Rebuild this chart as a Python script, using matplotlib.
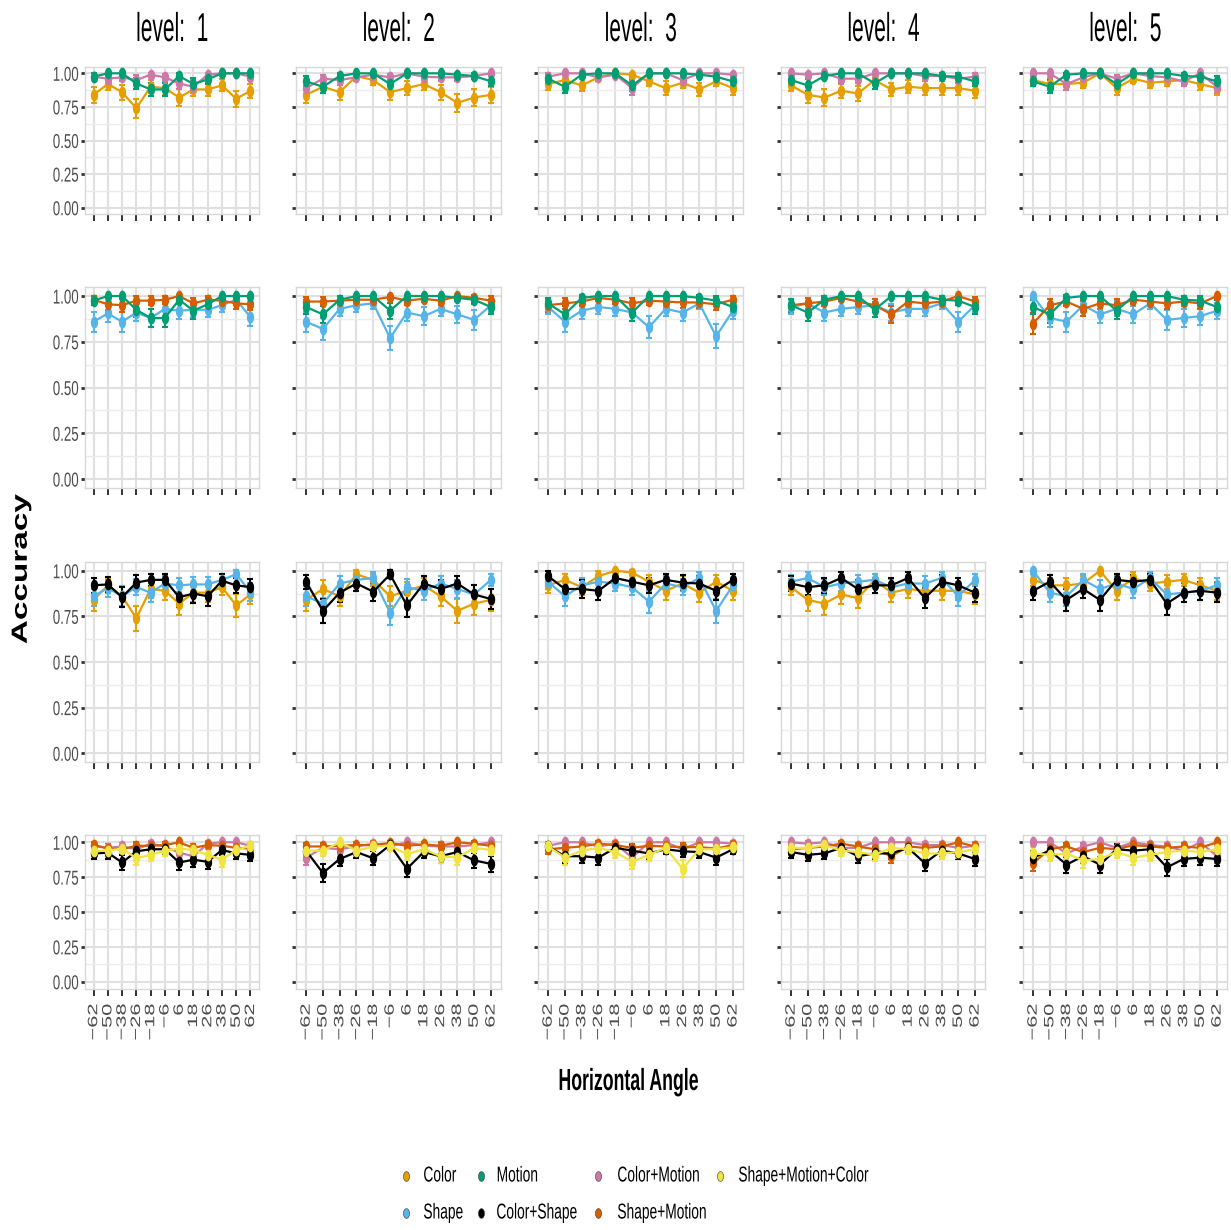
import numpy as np
import matplotlib
matplotlib.use("Agg")
import matplotlib.pyplot as plt
from matplotlib.path import Path
from matplotlib.patheffects import AbstractPathEffect
from matplotlib.transforms import Affine2D
from matplotlib.lines import Line2D

# ---------------------------------------------------------------- data
ANGLES = ["-62", "-50", "-38", "-26", "-18", "-6", "6", "18", "26", "38", "50", "62"]
LEVELS = [1, 2, 3, 4, 5]
N_TRIALS = 40  # trials per cell, used for the binomial standard error

# mean accuracy per level (rows) and horizontal angle (columns)
COLOR = [
    [0.84, 0.92, 0.86, 0.74, 0.90, 0.89, 0.82, 0.88, 0.88, 0.91, 0.81, 0.87],
    [0.84, 0.90, 0.86, 0.98, 0.95, 0.86, 0.89, 0.92, 0.86, 0.78, 0.82, 0.84],
    [0.92, 0.95, 0.91, 0.97, 1.00, 0.99, 0.94, 0.89, 0.93, 0.88, 0.94, 0.89],
    [0.91, 0.84, 0.82, 0.87, 0.85, 0.95, 0.88, 0.90, 0.89, 0.89, 0.89, 0.87],
    [0.95, 0.92, 0.92, 0.93, 1.00, 0.89, 0.96, 0.93, 0.94, 0.95, 0.92, 0.89],
]
MOTION = [
    [0.975, 1.00, 1.00, 0.925, 0.88, 0.88, 0.98, 0.92, 0.955, 1.00, 1.00, 1.00],
    [0.94, 0.90, 0.98, 1.00, 1.00, 0.92, 1.00, 1.00, 1.00, 0.99, 0.98, 0.94],
    [0.96, 0.90, 0.99, 1.00, 1.00, 0.91, 1.00, 1.00, 1.00, 0.99, 0.975, 0.94],
    [0.95, 0.91, 0.98, 1.00, 1.00, 0.925, 1.00, 1.00, 1.00, 0.98, 0.975, 0.94],
    [0.94, 0.90, 0.99, 1.00, 1.00, 0.92, 1.00, 1.00, 1.00, 0.98, 0.975, 0.94],
]
COLOR_MOTION = [
    [0.975, 0.96, 0.97, 0.95, 0.99, 0.97, 0.925, 0.90, 0.99, 1.00, 1.00, 0.975],
    [0.89, 0.96, 0.95, 0.97, 0.99, 0.97, 1.00, 0.975, 0.97, 0.97, 0.98, 1.00],
    [0.975, 1.00, 1.00, 0.97, 0.99, 0.89, 1.00, 1.00, 0.95, 1.00, 1.00, 0.99],
    [1.00, 0.99, 1.00, 0.96, 0.96, 1.00, 1.00, 1.00, 0.98, 0.98, 0.96, 0.975],
    [1.00, 1.00, 0.92, 0.97, 1.00, 0.96, 1.00, 0.98, 0.97, 0.94, 1.00, 0.90],
]
SHAPE = [
    [0.86, 0.905, 0.86, 0.91, 0.88, 0.93, 0.92, 0.925, 0.925, 0.95, 0.98, 0.885],
    [0.86, 0.82, 0.93, 0.95, 0.96, 0.77, 0.91, 0.89, 0.93, 0.90, 0.87, 0.95],
    [0.94, 0.86, 0.92, 0.94, 0.93, 0.91, 0.83, 0.93, 0.91, 0.96, 0.78, 0.92],
    [0.94, 0.96, 0.91, 0.93, 0.94, 0.95, 0.91, 0.93, 0.93, 0.96, 0.86, 0.95],
    [1.00, 0.88, 0.86, 0.95, 0.90, 0.93, 0.90, 0.96, 0.87, 0.88, 0.89, 0.92],
]
SHAPE_MOTION = [
    [0.98, 0.955, 0.95, 0.975, 0.975, 0.98, 1.00, 0.96, 0.98, 0.975, 0.96, 0.955],
    [0.97, 0.97, 0.975, 0.98, 0.98, 0.995, 0.975, 0.985, 0.975, 1.00, 0.99, 0.975],
    [0.95, 0.96, 0.97, 0.99, 0.98, 0.96, 0.975, 0.97, 0.965, 0.965, 0.955, 0.98],
    [0.95, 0.96, 0.97, 0.99, 0.97, 0.95, 0.90, 0.97, 0.96, 0.97, 1.00, 0.97],
    [0.85, 0.95, 0.97, 0.93, 0.96, 0.95, 0.98, 0.97, 0.96, 0.97, 0.96, 1.00],
]
COLOR_SHAPE = [
    [0.92, 0.925, 0.855, 0.935, 0.95, 0.95, 0.855, 0.875, 0.86, 0.945, 0.92, 0.91],
    [0.94, 0.78, 0.88, 0.93, 0.885, 0.98, 0.81, 0.93, 0.90, 0.93, 0.87, 0.845],
    [0.97, 0.90, 0.90, 0.89, 0.96, 0.94, 0.92, 0.95, 0.935, 0.93, 0.89, 0.95],
    [0.93, 0.91, 0.92, 0.96, 0.90, 0.92, 0.92, 0.96, 0.85, 0.94, 0.92, 0.88],
    [0.89, 0.94, 0.84, 0.90, 0.84, 0.95, 0.94, 0.95, 0.82, 0.88, 0.89, 0.88],
]
SHAPE_MOTION_COLOR = [
    [0.935, 0.94, 0.955, 0.885, 0.91, 0.94, 0.955, 0.945, 0.91, 0.875, 0.945, 0.975],
    [0.94, 0.94, 1.00, 0.94, 0.97, 0.975, 0.915, 0.95, 0.90, 0.89, 0.96, 0.945],
    [0.97, 0.89, 0.94, 0.96, 0.93, 0.86, 0.91, 0.96, 0.81, 0.95, 0.95, 0.965],
    [0.96, 0.96, 0.98, 0.94, 0.93, 0.91, 0.96, 0.95, 0.92, 0.92, 0.93, 0.95],
    [0.92, 0.91, 0.92, 0.87, 0.88, 0.93, 0.89, 0.91, 0.93, 0.94, 0.93, 0.95],
]

SERIES = {
    "Color": COLOR,
    "Shape": SHAPE,
    "Motion": MOTION,
    "Color+Shape": COLOR_SHAPE,
    "Color+Motion": COLOR_MOTION,
    "Shape+Motion": SHAPE_MOTION,
    "Shape+Motion+Color": SHAPE_MOTION_COLOR,
}
LEGEND_ORDER = ["Color", "Shape", "Motion", "Color+Shape",
                "Color+Motion", "Shape+Motion", "Shape+Motion+Color"]

# which conditions appear in each row of panels (drawing order)
ROW_CONDITIONS = [
    ["Color", "Color+Motion", "Motion"],
    ["Shape", "Shape+Motion", "Motion"],
    ["Color", "Shape", "Color+Shape"],
    ["Color+Motion", "Shape+Motion", "Color+Shape", "Shape+Motion+Color"],
]

# ---------------------------------------------------------------- style
PALETTE = {
    "Color": "#E69F00",
    "Shape": "#56B4E9",
    "Motion": "#009E73",
    "Color+Shape": "#000000",
    "Color+Motion": "#CC79A7",
    "Shape+Motion": "#D55E00",
    "Shape+Motion+Color": "#F0E442",
}
FONT = ["Liberation Sans", "DejaVu Sans"]
TICK_GREY = "#4D4D4D"


class Stretch(AbstractPathEffect):
    """Draw text rescaled in x and y about an anchor of its ink box."""

    def __init__(self, sx=1.0, sy=1.0, ax_="center", ay_="center"):
        super().__init__()
        self.sx, self.sy = sx, sy
        self.ax_, self.ay_ = ax_, ay_

    def draw_path(self, renderer, gc, tpath, affine, rgbFace=None):
        ext = tpath.get_extents(affine)
        cx = {"left": ext.x0, "right": ext.x1}.get(self.ax_, 0.5 * (ext.x0 + ext.x1))
        cy = {"bottom": ext.y0, "top": ext.y1}.get(self.ay_, 0.5 * (ext.y0 + ext.y1))
        t = affine + (Affine2D().translate(-cx, -cy)
                      .scale(self.sx, self.sy).translate(cx, cy))
        renderer.draw_path(gc, tpath, t, rgbFace)


# tall elliptical point marker
_theta = np.linspace(0, 2 * np.pi, 48)
ELLIPSE = Path(np.column_stack([0.62 * np.cos(_theta), np.sin(_theta)]), closed=True)

W, H = 1231, 1230
COL_X = [(85, 259), (296, 501), (538, 743), (781, 985), (1023, 1227)]
ROW_Y = [(66.6, 214.4), (286.9, 488.2), (561.6, 762.4), (835.3, 988.7)]

fig = plt.figure(figsize=(W / 100, H / 100), dpi=100)
fig.patch.set_facecolor("white")

x = np.arange(len(ANGLES))
yt = [0.0, 0.25, 0.5, 0.75, 1.0]

for r, conds in enumerate(ROW_CONDITIONS):
    y0, y1 = ROW_Y[r]
    for c, lev in enumerate(LEVELS):
        x0, x1 = COL_X[c]
        ax = fig.add_axes([x0 / W, 1 - y1 / H, (x1 - x0) / W, (y1 - y0) / H])
        ax.set_xlim(-0.6, len(ANGLES) - 0.4)
        ax.set_ylim(-0.05, 1.05)
        ax.set_facecolor("white")
        for s in ax.spines.values():
            s.set_color("#D8D8D8")
            s.set_linewidth(1.0)
        ax.set_axisbelow(True)
        ax.set_yticks(yt)
        ax.set_yticks([0.125, 0.375, 0.625, 0.875], minor=True)
        ax.set_xticks(x)
        ax.grid(which="major", color="#E0E0E0", linewidth=1.5)
        ax.grid(which="minor", axis="y", color="#ECECEC", linewidth=1.0)
        ax.tick_params(axis="x", which="major", length=5, width=1.4,
                       color="#333333", pad=6)
        ax.tick_params(axis="y", which="major", length=3, width=2.0,
                       color="#333333", pad=1.5)
        ax.tick_params(which="minor", length=0)

        if c == 0:
            ax.set_yticklabels(["0.00", "0.25", "0.50", "0.75", "1.00"])
            for lbl in ax.get_yticklabels():
                lbl.set_fontfamily(FONT)
                lbl.set_fontsize(14.5)
                lbl.set_color(TICK_GREY)
                lbl.set_path_effects([Stretch(0.66, 1.0, "right", "center")])
        else:
            ax.set_yticklabels([])

        if r == len(ROW_CONDITIONS) - 1:
            ax.set_xticklabels([a.replace("-", "\u2212") for a in ANGLES],
                               rotation=90, va="top", ha="center")
            for lbl in ax.get_xticklabels():
                lbl.set_fontfamily(FONT)
                lbl.set_fontsize(8.5)
                lbl.set_color(TICK_GREY)
                lbl.set_path_effects([Stretch(1.15, 1.85, "center", "top")])
        else:
            ax.set_xticklabels([])

        for cond in conds:
            p = np.asarray(SERIES[cond][c], dtype=float)
            se = np.sqrt(p * (1 - p) / N_TRIALS)
            col = PALETTE[cond]
            ax.errorbar(x, p, yerr=se, fmt="none", ecolor=col, elinewidth=1.5,
                        capsize=2.0, capthick=1.5, zorder=2)
            ax.plot(x, p, color=col, linewidth=1.6, marker=ELLIPSE,
                    markersize=8.5, markeredgewidth=0, zorder=3)

        if r == 0:
            ax.text(0.5, 1 + (66.6 - 30) / (y1 - y0), f"level:  {lev}",
                    transform=ax.transAxes, ha="center", va="center",
                    fontsize=29, family=FONT, color="black",
                    path_effects=[Stretch(0.52, 1.0, "center", "center")])

# axis titles
fig.text(628 / W, 1 - 1082 / H, "Horizontal Angle", ha="center", va="center",
         fontsize=22, fontweight="bold", family=FONT,
         path_effects=[Stretch(0.58, 1.0, "center", "center")])
fig.text(21 / W, 1 - 569 / H, "Accuracy", ha="center", va="center",
         rotation=90, fontsize=24, fontweight="bold", family=FONT,
         path_effects=[Stretch(0.66, 1.0, "center", "center")])

# legend, filled column by column in two rows
LEG_MARK_X = [406, 481, 598, 720]
LEG_TEXT_X = [423, 496, 617, 738]
LEG_Y = [1176, 1213]
for i, cond in enumerate(LEGEND_ORDER):
    ci, ri = divmod(i, 2)
    yy = 1 - LEG_Y[ri] / H
    fig.add_artist(Line2D([LEG_MARK_X[ci] / W], [yy], transform=fig.transFigure,
                          marker=ELLIPSE, markersize=7, linestyle="none",
                          markerfacecolor=PALETTE[cond],
                          markeredgecolor="#333333", markeredgewidth=0.4))
    fig.text(LEG_TEXT_X[ci] / W, yy, cond, ha="left", va="center",
             fontsize=15.5, family=FONT, color="black",
             path_effects=[Stretch(0.64, 1.0, "left", "center")])

fig.savefig("out.png", dpi=100, facecolor="white")
